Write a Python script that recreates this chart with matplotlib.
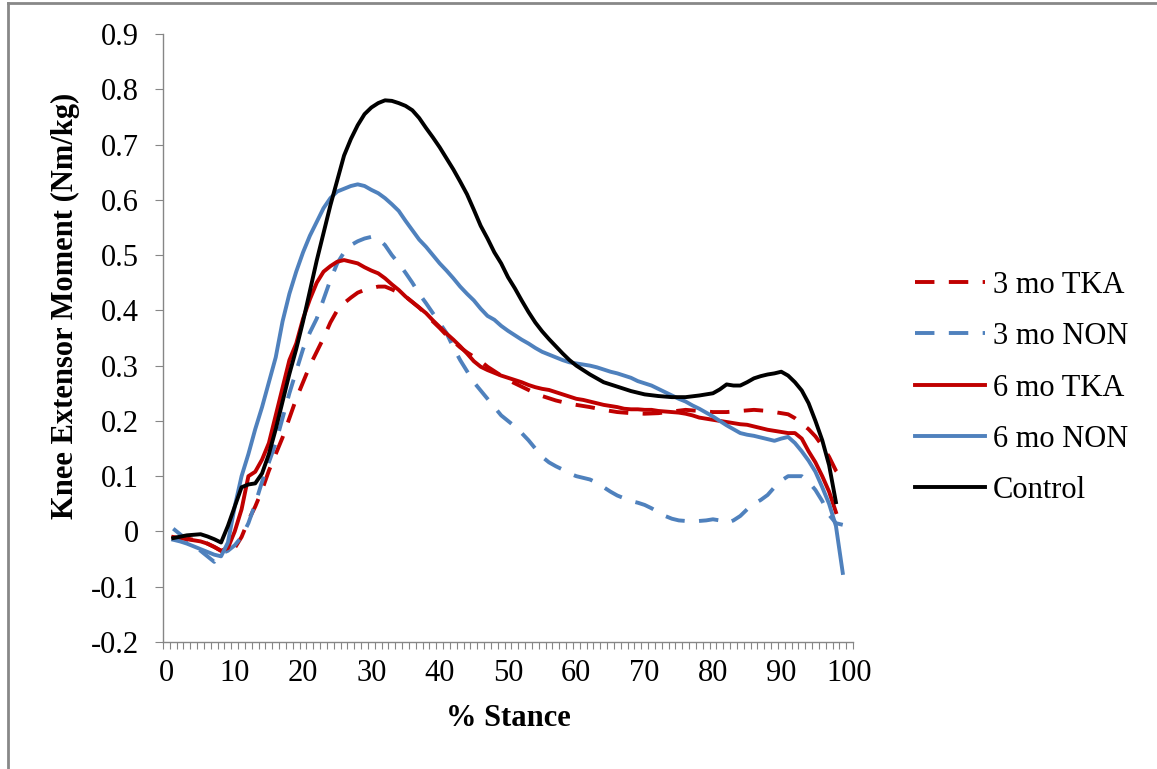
import matplotlib
matplotlib.use("Agg")
import matplotlib.pyplot as plt
from matplotlib.lines import Line2D
import numpy as np

plt.rcParams['font.family'] = ['Liberation Serif', 'DejaVu Serif']
plt.rcParams['axes.unicode_minus'] = False

# ---- data ----
ctrl_x = [1, 3, 5, 6, 7, 8, 9, 10, 11, 12, 13, 14, 15, 16, 17, 18, 19, 20, 21, 22, 23, 24, 25, 26, 27, 28, 29, 30,
          31, 32, 33, 34, 35, 36, 37, 38, 39, 40, 41, 42, 43, 44, 45, 46, 47, 48, 49, 50, 51, 52, 53, 54, 55, 56,
          57, 58, 59, 60, 61, 62, 63, 64, 65, 66, 68, 70, 72, 74, 76, 78, 80, 81, 82, 83, 84, 85, 86, 87, 88, 89,
          90, 91, 92, 93, 94, 95, 96, 97, 98]
ctrl_y = [-0.012, -0.007, -0.005, -0.009, -0.014, -0.02, 0.01, 0.045, 0.08, 0.085, 0.087, 0.105, 0.14, 0.185,
          0.235, 0.285, 0.33, 0.38, 0.435, 0.49, 0.54, 0.59, 0.635, 0.68, 0.71, 0.735, 0.755, 0.767, 0.775, 0.78,
          0.779, 0.775, 0.77, 0.762, 0.748, 0.73, 0.713, 0.695, 0.675, 0.655, 0.633, 0.61, 0.582, 0.553, 0.53,
          0.505, 0.485, 0.46, 0.44, 0.418, 0.397, 0.378, 0.362, 0.348, 0.335, 0.322, 0.31, 0.3, 0.292, 0.284,
          0.277, 0.27, 0.266, 0.262, 0.254, 0.248, 0.245, 0.243, 0.243, 0.246, 0.25, 0.257, 0.266, 0.264, 0.264,
          0.27, 0.277, 0.281, 0.284, 0.286, 0.289, 0.282, 0.27, 0.255, 0.232, 0.2, 0.165, 0.12, 0.053]

non6_x = list(range(1, 100))
non6_y = [-0.015, -0.018, -0.022, -0.027, -0.032, -0.037, -0.042, -0.045, -0.02, 0.045, 0.1, 0.14, 0.185, 0.225,
          0.27, 0.315, 0.38, 0.43, 0.47, 0.505, 0.535, 0.56, 0.585, 0.603, 0.615, 0.62, 0.625, 0.628, 0.625, 0.618,
          0.612, 0.603, 0.592, 0.58, 0.562, 0.545, 0.528, 0.515, 0.5, 0.485, 0.472, 0.458, 0.443, 0.43, 0.418,
          0.403, 0.39, 0.383, 0.372, 0.363, 0.355, 0.347, 0.34, 0.332, 0.325, 0.32, 0.315, 0.31, 0.306, 0.304,
          0.302, 0.3, 0.297, 0.293, 0.289, 0.286, 0.282, 0.278, 0.272, 0.268, 0.264, 0.258, 0.252, 0.246, 0.24,
          0.235, 0.228, 0.222, 0.215, 0.208, 0.2, 0.192, 0.185, 0.178, 0.175, 0.173, 0.17, 0.167, 0.164, 0.168,
          0.171, 0.16, 0.145, 0.128, 0.108, 0.08, 0.05, 0.01, -0.075]

tka6_x = list(range(1, 99))
tka6_y = [-0.01, -0.012, -0.014, -0.016, -0.018, -0.022, -0.028, -0.035, -0.03, 0.0, 0.04, 0.1, 0.108, 0.13, 0.16,
          0.21, 0.26, 0.31, 0.34, 0.385, 0.42, 0.45, 0.47, 0.48, 0.488, 0.491, 0.488, 0.485, 0.478, 0.472, 0.467,
          0.458, 0.447, 0.437, 0.425, 0.415, 0.405, 0.395, 0.382, 0.37, 0.358, 0.347, 0.335, 0.322, 0.308, 0.298,
          0.292, 0.287, 0.282, 0.278, 0.274, 0.27, 0.265, 0.261, 0.258, 0.256, 0.252, 0.248, 0.244, 0.24, 0.238,
          0.235, 0.232, 0.229, 0.227, 0.225, 0.222, 0.221, 0.221, 0.22, 0.22, 0.218, 0.217, 0.216, 0.215, 0.213,
          0.21, 0.206, 0.204, 0.202, 0.2, 0.198, 0.196, 0.194, 0.193, 0.19, 0.187, 0.184, 0.182, 0.18, 0.178,
          0.178, 0.168, 0.145, 0.125, 0.1, 0.072, 0.035]

tka3_x = [1, 2, 3, 4, 5, 6, 7, 8, 9, 10, 11, 12, 13, 14, 15, 16, 17, 18, 19, 20, 21, 22, 23, 24, 25, 26, 27, 28,
          29, 30, 31, 32, 33, 34, 35, 36, 37, 38, 39, 40, 41, 42, 43, 44, 45, 46, 47, 48, 49, 50, 51, 52, 53, 54,
          55, 56, 57, 58, 59, 60, 62, 64, 66, 68, 70, 72, 74, 76, 78, 80, 82, 84, 86, 88, 90, 91, 92, 93, 94, 95,
          96, 97, 98, 99]
tka3_y = [-0.012, -0.012, -0.013, -0.015, -0.018, -0.022, -0.028, -0.035, -0.04, -0.03, -0.01, 0.02, 0.045, 0.075,
          0.11, 0.14, 0.17, 0.205, 0.24, 0.27, 0.3, 0.325, 0.35, 0.378, 0.4, 0.413, 0.423, 0.432, 0.437, 0.44,
          0.443, 0.443, 0.438, 0.432, 0.425, 0.415, 0.405, 0.393, 0.38, 0.368, 0.355, 0.344, 0.333, 0.324, 0.316,
          0.308, 0.298, 0.29, 0.282, 0.274, 0.268, 0.262, 0.256, 0.25, 0.245, 0.241, 0.237, 0.234, 0.231, 0.229,
          0.225, 0.22, 0.216, 0.214, 0.213, 0.214, 0.217, 0.22, 0.218, 0.216, 0.216, 0.218, 0.22, 0.218, 0.214,
          0.212, 0.205, 0.195, 0.185, 0.172, 0.155, 0.135, 0.11, 0.095]

non3_x = list(range(1, 100))
non3_y = [0.005, -0.005, -0.015, -0.025, -0.035, -0.045, -0.055, -0.04, -0.035, -0.025, -0.01, 0.015, 0.05, 0.09,
          0.125, 0.16, 0.205, 0.25, 0.29, 0.33, 0.36, 0.385, 0.42, 0.455, 0.485, 0.505, 0.518, 0.525, 0.53, 0.533,
          0.53, 0.518, 0.5, 0.485, 0.468, 0.45, 0.43, 0.413, 0.395, 0.377, 0.359, 0.333, 0.31, 0.29, 0.27, 0.255,
          0.24, 0.225, 0.21, 0.2, 0.19, 0.178, 0.165, 0.15, 0.135, 0.125, 0.118, 0.112, 0.105, 0.1, 0.097, 0.094,
          0.088, 0.08, 0.072, 0.065, 0.06, 0.055, 0.052, 0.048, 0.042, 0.035, 0.028, 0.023, 0.02, 0.019, 0.018,
          0.019, 0.02, 0.022, 0.02, 0.015, 0.02, 0.028, 0.04, 0.05, 0.057, 0.066, 0.08, 0.092, 0.1, 0.1, 0.1,
          0.09, 0.075, 0.055, 0.03, 0.015, 0.012]

x_tick_labels = [str(v) for v in range(0, 101, 10)]
y_ticks = [-0.2, -0.1, 0, 0.1, 0.2, 0.3, 0.4, 0.5, 0.6, 0.7, 0.8, 0.9]
y_tick_labels = ['-0.2', '-0.1', '0', '0.1', '0.2', '0.3', '0.4', '0.5', '0.6', '0.7', '0.8', '0.9']

RED = '#C00000'
BLUE = '#4F81BD'
LW = 2.8
DASH = (5, 3.7)
FS = 22

W, H = 1157, 769
fig = plt.figure(figsize=(W / 100, H / 100), dpi=100)
ax = fig.add_axes([163 / W, 1 - 642 / H, (853 - 163) / W, (642 - 34) / H])

ax.plot(tka3_x, tka3_y, color=RED, lw=LW, ls=(0, DASH), label='3 mo TKA')
ax.plot(non3_x, non3_y, color=BLUE, lw=LW, ls=(0, DASH), label='3 mo NON')
ax.plot(tka6_x, tka6_y, color=RED, lw=LW, label='6 mo TKA')
ax.plot(non6_x, non6_y, color=BLUE, lw=LW, label='6 mo NON')
ax.plot(ctrl_x, ctrl_y, color='black', lw=LW, label='Control')

ax.set_xlim(-0.5, 100.5)
ax.set_ylim(-0.2, 0.9)

ax.set_xticks(range(0, 101, 10))
ax.set_xticklabels(x_tick_labels)
ax.set_xticks(np.arange(-0.5, 101, 1), minor=True)
ax.tick_params(axis='x', which='major', length=0, pad=12, labelsize=FS)
ax.tick_params(axis='x', which='minor', length=5, width=0.8, color='#868686')

ax.set_yticks(y_ticks)
ax.set_yticklabels(y_tick_labels)
ax.tick_params(axis='y', which='major', length=5.5, width=0.8, color='#868686', labelsize=FS, pad=12)

for s in ['top', 'right']:
    ax.spines[s].set_visible(False)
for s in ['left', 'bottom']:
    ax.spines[s].set_color('#868686')
    ax.spines[s].set_linewidth(1.0)

ax.set_xlabel('% Stance', fontsize=FS, fontweight='bold')
ax.xaxis.set_label_coords(0.5, (642 - 704) / 608)
ax.set_ylabel('Knee Extensor Moment (Nm/kg)', fontsize=FS, fontweight='bold')
ax.yaxis.set_label_coords((80 - 163) / 690, (642 - 306) / 608)

fig.legend(loc='center left', bbox_to_anchor=(915 / W, 1 - 388 / H), frameon=False,
           borderpad=0, borderaxespad=0,
           fontsize=FS, handlelength=2.3, handletextpad=0.25, labelspacing=0.73)

# outer chart border (visible top and left edges)
fig.add_artist(Line2D([8 / W, 8 / W], [0, 1 - 3 / H], transform=fig.transFigure,
                      color='#888888', lw=2))
fig.add_artist(Line2D([8 / W, 1], [1 - 3 / H, 1 - 3 / H], transform=fig.transFigure,
                      color='#888888', lw=2))

fig.savefig('out.png', dpi=100)
